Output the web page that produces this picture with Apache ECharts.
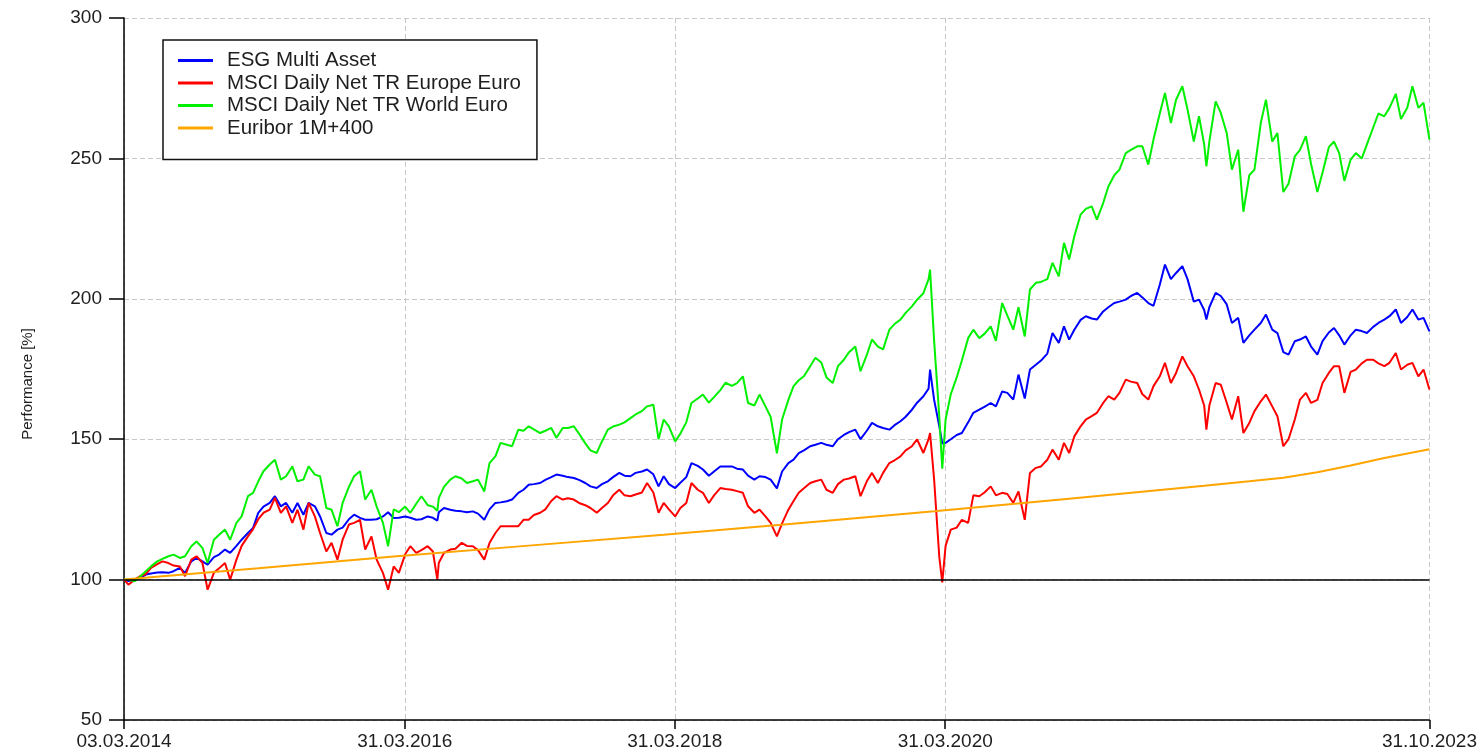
<!DOCTYPE html>
<html><head><meta charset="utf-8">
<script src="https://cdn.jsdelivr.net/npm/echarts@6/dist/echarts.min.js"></script>
<style>html,body{margin:0;padding:0;background:#fff}#c{width:1480px;height:754px}</style>
</head><body><div id="c"></div>
<script>
// ---- data ----
const dates = [
 "2014-03-03","2014-03-15","2014-04-01","2014-04-15","2014-05-01","2014-05-15","2014-06-01","2014-06-15","2014-07-01","2014-07-15","2014-08-01","2014-08-15","2014-09-01","2014-09-15","2014-10-01","2014-10-15","2014-11-01","2014-11-15","2014-12-01","2014-12-15",
 "2015-01-01","2015-01-15","2015-02-01","2015-02-15","2015-03-01","2015-03-15","2015-04-01","2015-04-15","2015-05-01","2015-05-15","2015-06-01","2015-06-15","2015-07-01","2015-07-15","2015-08-01","2015-08-15","2015-09-01","2015-09-15","2015-10-01","2015-10-15","2015-11-01","2015-11-15","2015-12-01","2015-12-15",
 "2016-01-01","2016-01-15","2016-02-01","2016-02-15","2016-03-01","2016-03-15","2016-04-01","2016-04-15","2016-05-01","2016-05-15","2016-06-01","2016-06-15","2016-06-27","2016-07-01","2016-07-15","2016-08-01","2016-08-15","2016-09-01","2016-09-15","2016-10-01","2016-10-15","2016-11-01","2016-11-15","2016-12-01","2016-12-15",
 "2017-01-01","2017-01-15","2017-02-01","2017-02-15","2017-03-01","2017-03-15","2017-04-01","2017-04-15","2017-05-01","2017-05-15","2017-06-01","2017-06-15","2017-07-01","2017-07-15","2017-08-01","2017-08-15","2017-09-01","2017-09-15","2017-10-01","2017-10-15","2017-11-01","2017-11-15","2017-12-01","2017-12-15",
 "2018-01-01","2018-01-15","2018-02-01","2018-02-15","2018-03-01","2018-03-15","2018-04-01","2018-04-15","2018-05-01","2018-05-15","2018-06-01","2018-06-15","2018-07-01","2018-07-15","2018-08-01","2018-08-15","2018-09-01","2018-09-15","2018-10-01","2018-10-15","2018-11-01","2018-11-15","2018-12-01","2018-12-15",
 "2019-01-01","2019-01-15","2019-02-01","2019-02-15","2019-03-01","2019-03-15","2019-04-01","2019-04-15","2019-05-01","2019-05-15","2019-06-01","2019-06-15","2019-07-01","2019-07-15","2019-08-01","2019-08-15","2019-09-01","2019-09-15","2019-10-01","2019-10-15","2019-11-01","2019-11-15","2019-12-01","2019-12-15",
 "2020-01-01","2020-01-15","2020-02-01","2020-02-15","2020-02-19","2020-03-01","2020-03-15","2020-03-23","2020-04-01","2020-04-15","2020-05-01","2020-05-15","2020-06-01","2020-06-15","2020-07-01","2020-07-15","2020-08-01","2020-08-15","2020-09-01","2020-09-15","2020-10-01","2020-10-15","2020-11-01","2020-11-15","2020-12-01","2020-12-15",
 "2021-01-01","2021-01-15","2021-02-01","2021-02-15","2021-03-01","2021-03-15","2021-04-01","2021-04-15","2021-05-01","2021-05-15","2021-06-01","2021-06-15","2021-07-01","2021-07-15","2021-08-01","2021-08-15","2021-09-01","2021-09-15","2021-10-01","2021-10-15","2021-11-01","2021-11-15","2021-12-01","2021-12-15",
 "2022-01-01","2022-01-15","2022-02-01","2022-02-15","2022-03-01","2022-03-07","2022-03-15","2022-04-01","2022-04-15","2022-05-01","2022-05-15","2022-06-01","2022-06-15","2022-07-01","2022-07-15","2022-08-01","2022-08-15","2022-09-01","2022-09-15","2022-10-01","2022-10-15","2022-11-01","2022-11-15","2022-12-01","2022-12-15",
 "2023-01-01","2023-01-15","2023-02-01","2023-02-15","2023-03-01","2023-03-15","2023-04-01","2023-04-15","2023-05-01","2023-05-15","2023-06-01","2023-06-15","2023-07-01","2023-07-15","2023-08-01","2023-08-15","2023-09-01","2023-09-15","2023-10-01","2023-10-15","2023-10-31"
];
const esgMultiAsset = [
 100,99.5,100,100.5,101.8,102.2,102.5,102.6,102.4,103,104.2,102.4,106.5,107.7,106.5,105.3,108,108.9,110.7,109.5,
 112,114.2,116.6,118.4,123.8,126,127.3,129.7,126.1,127.3,123.8,127.3,123.1,127.3,126.1,122.5,116.6,116,117.8,118.5,121.5,123.1,122,121.3,
 121.3,121.5,122.5,124,121.9,122,122.5,122,121.3,121.5,122.5,122,121,124,125.5,124.9,124.5,124.3,124,124.3,123.5,121.3,125,127.3,127.5,
 127.9,128.5,130.9,132,133.8,134,134.4,135.5,136.5,137.4,137,136.5,136.2,135.5,134.4,133.2,132.6,134,135,136.5,138,137,136.8,138,
 138.5,139.2,137.5,133.2,136.8,134,132.6,134.5,136.5,141.5,140.5,139.2,137,138.5,140.3,140.3,140.3,139.5,139.2,137,135.6,136.8,136.5,135.6,
 132.5,138.5,141.5,142.7,145,146,147.5,148,148.7,148,147.5,150,151.5,152.5,153.4,150,153,155.8,154.6,154,153.4,155,156.4,158,
 160.5,163,165.3,168,174.8,164,154.6,148.5,148.7,150,151.5,152.2,156,159.4,160.5,161.5,162.9,161.7,167,166.5,164.1,173,164.5,174.8,176.5,178,
 180.5,187.8,184.3,190.2,185.5,189,192.5,193.8,193,192.6,195.5,197,198.5,199,199.7,201,202.1,200.5,198.5,197.5,205,212.2,207,209.2,
 211.6,207,199,199.7,196,192.6,197,202.1,201,198,191.4,193.2,184.3,187,189,191.4,194.4,189,187.8,181,180.1,184.9,185.5,186.6,183,
 180.1,184.9,188,189.6,187,183.7,187,189,188.5,187.8,190,191.4,192.6,193.8,196.2,191.4,193.5,196.2,192.6,193.2,188.4
];
const msciEurope = [
 100,98.2,100,101.2,102,104.2,105.5,106.5,105.9,105,104.7,101.2,107.1,108.3,106,96.4,102.4,104,105.9,100,
 107.1,112,115.4,118,121.5,123.8,124.9,129.1,123.8,126.1,120.2,124.9,117.8,127.3,122.5,116.6,110,113.1,107.1,114.2,119.6,120.2,121.3,110.7,
 115.4,107.1,102.4,96.4,104.7,102.4,109,111.9,109.5,110.5,111.9,110,100,106,109.5,110.7,111,113.1,112,111.9,110.5,107.1,113,116.6,119,
 119,119,119,121.3,121.3,123,123.8,125,128,129.7,128.5,129,128.5,127.3,126.5,125.5,123.8,125.5,127.3,130,132,130,129.7,130.3,
 131,134.4,131,123.8,127.3,125,122.5,125.5,127.3,134.4,132,130.9,127.3,130,132.6,132.3,132,131.5,130.9,126.1,123.8,124.9,122.5,120.2,
 115.4,120,124.9,128,130.9,132.5,134.4,135,135.6,132,130.9,134,135.6,136,136.8,129.7,135,138,134.4,138,141.5,142.5,143.9,146,
 147.5,149.9,145.1,150,152.2,135.6,108,99,112,117.8,118.5,121.3,120.2,130,129.7,131,133.2,130,130.9,130.5,127.3,131.4,121.3,138,139.8,140.3,
 142.7,146.3,142.7,148.7,145.1,151,154.6,157,158.2,159.4,162.9,165.3,164.1,166.5,171.2,170.5,170,166,164.1,168.9,172.4,177.2,170,173.6,
 179.5,176,172.4,167.7,162,153.4,162,170,169.4,163,157,165.3,152.2,155.8,160,163.5,165.9,161.7,158.2,147.5,150,157,164.1,166.5,162.9,
 164,170,173.6,176,176,166.5,174,174.8,177,178.3,178.3,177,176,177.2,180.7,174.8,176.5,177.2,172.4,174.8,167.7
];
const msciWorld = [
 100,100,99.4,101,103,104.7,106.5,107.4,108.3,108.9,107.7,108.3,111.9,113.6,111.3,105.9,114.2,116,117.8,114.2,
 120.2,122.5,129.7,130.9,135,138.6,141,142.7,135.6,136.8,140.3,135,135.6,140.3,137.4,136.8,125.5,124.9,119,127.3,133,136.8,138.6,128.5,
 132,126,120.2,111.9,125,124,126,123.8,127,129.7,126.5,126,124.5,129,133,135.6,136.8,136,134.4,135,135.6,131.4,141.5,143.9,148.7,
 148,147.5,153.4,153,154.6,153.5,152.2,153,154,150.5,154,154,154.6,152,148.5,146,145.1,149.2,153.4,154.5,155.2,156,157.5,158.8,
 160,161.7,162.3,150,157,154.6,149.2,152,156,162.9,164.5,165.9,163,165,167.5,170.1,169,170,172.4,162.9,162,165.9,161.7,158,
 145,157,164,168.9,171,172.4,176,179,177.3,172,170,176,178.3,181,183,174.2,180,185.5,183,182,189,191,192.6,195,
 197.3,199.7,202,207,210.4,185,158,139.5,157,166,172,178,186,189,186,187.5,190.2,185,198.5,194,189,197,186.6,203.3,205.7,206,
 207,212.8,208,219.9,214,222.3,230,232,232.9,228.2,234.1,240,244,246,251.9,253,254.3,254.3,247.8,256.7,266,273.3,262.6,270.9,
 275.7,267.4,256,265,255,247.2,256,270.3,266.2,259,246,253.1,231,244,246,262.6,270.9,256,259,238,241,250.7,253,257.9,248,
 238,245,254,256,251.9,242,249.6,251.9,250,255,261,266,265,268,273,264,268,275.7,268,269.8,256.7
];
const euriborDates = ["2014-03-03","2015-03-01","2016-03-01","2017-03-01","2018-03-01","2019-03-01","2020-03-01","2021-03-01","2022-03-01","2022-07-01","2022-10-01","2023-01-01","2023-04-01","2023-07-01","2023-10-31"];
const euribor = [100,104.0,108.2,112.1,116.0,120.1,124.3,128.8,133.4,135.0,136.3,138.2,140.6,143.3,146.4];
const seriesNames = ["ESG Multi Asset","MSCI Daily Net TR Europe Euro","MSCI Daily Net TR World Euro","Euribor 1M+400"];
const xTickDates = ["2014-03-03","2016-03-31","2018-03-31","2020-03-31","2023-10-31"];
const yMin = 50, yMax = 300, yStep = 50, baseLine = 100;

// ---- chart ----
const FONT = '"Liberation Sans", Arial, sans-serif';
const TXT = '#1e1e1e';
const ts = d => { const p = d.split('-').map(Number); return Date.UTC(p[0], p[1] - 1, p[2]); };
const pad2 = n => (n < 10 ? '0' : '') + n;
const fmtDate = v => { const d = new Date(v); return pad2(d.getUTCDate()) + '.' + pad2(d.getUTCMonth() + 1) + '.' + d.getUTCFullYear(); };
const pair = (ds, vs) => ds.map((d, i) => [ts(d), vs[i]]);
const tickVals = xTickDates.map(ts);
const lineSeries = (name, color, data, extra) => Object.assign({
  name, type: 'line', data, showSymbol: false, symbol: 'none',
  lineStyle: { color, width: 2 }, itemStyle: { color },
  emphasis: { disabled: true }, silent: true
}, extra || {});

const chart = echarts.init(document.getElementById('c'), null, { renderer: 'canvas' });
chart.setOption({
  animation: false,
  backgroundColor: '#fff',
  textStyle: { fontFamily: FONT },
  grid: { left: 124, right: 50, top: 18, bottom: 34, containLabel: false },
  legend: {
    show: true, orient: 'vertical', left: 163, top: 40,
    data: seriesNames, icon: 'rect', itemWidth: 35, itemHeight: 3, itemGap: 1.5,
    padding: [10, 16, 21, 15],
    borderColor: '#111', borderWidth: 1.5, backgroundColor: '#fff',
    selectedMode: false,
    textStyle: { fontFamily: FONT, fontSize: 20.5, lineHeight: 20, color: TXT, padding: [0, 0, 0, 9] }
  },
  xAxis: {
    type: 'value', min: tickVals[0], max: tickVals[tickVals.length - 1],
    axisLine: { show: true, onZero: false, lineStyle: { color: '#000', width: 1.5 } },
    axisTick: { show: true, length: 9, customValues: tickVals, lineStyle: { color: '#000', width: 1.5 } },
    axisLabel: {
      customValues: tickVals, margin: 12, fontSize: 19, color: TXT, fontFamily: FONT,
      showMinLabel: true, showMaxLabel: true, hideOverlap: false,
      formatter: v => fmtDate(v)
    },
    splitLine: { show: true, lineStyle: { color: '#c8c8c8', width: 1, type: [5, 3] } }
  },
  yAxis: {
    type: 'value', min: yMin, max: yMax, interval: yStep,
    name: 'Performance [%]', nameLocation: 'middle', nameGap: 89,
    nameTextStyle: { fontSize: 15, color: TXT, fontFamily: FONT, padding: [0, 30, 0, 0] },
    axisLine: { show: true, onZero: false, lineStyle: { color: '#000', width: 1.5 } },
    axisTick: { show: true, length: 15, lineStyle: { color: '#000', width: 1.5 } },
    axisLabel: { margin: 22, fontSize: 19, color: TXT, fontFamily: FONT },
    splitLine: { show: true, lineStyle: { color: '#c8c8c8', width: 1, type: [5, 3] } }
  },
  series: [
    lineSeries(seriesNames[0], '#0000ff', pair(dates, esgMultiAsset), {
      markLine: {
        silent: true, symbol: ['none', 'none'], label: { show: false }, animation: false,
        lineStyle: { color: '#000', width: 1.5, type: 'solid' },
        emphasis: { disabled: true },
        data: [{ yAxis: baseLine }]
      }
    }),
    lineSeries(seriesNames[1], '#ff0000', pair(dates, msciEurope)),
    lineSeries(seriesNames[2], '#00f000', pair(dates, msciWorld)),
    lineSeries(seriesNames[3], '#ffa500', pair(euriborDates, euribor))
  ]
});
</script></body></html>
